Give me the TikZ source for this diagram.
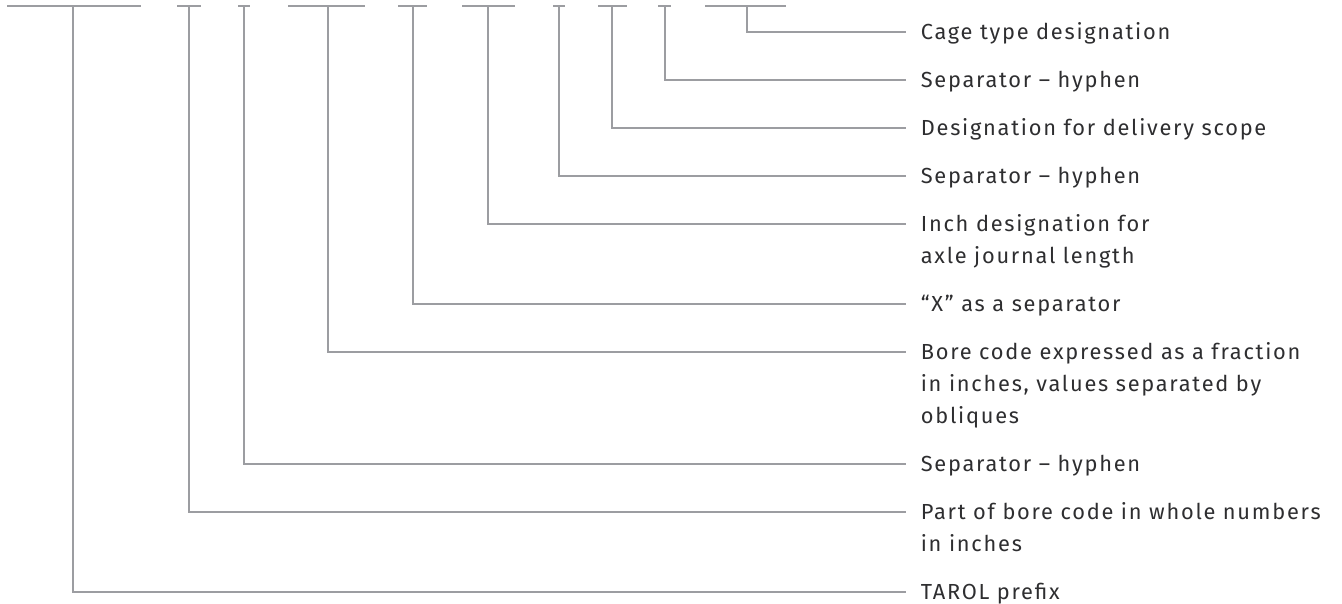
\documentclass[tikz,border=0pt]{standalone}
\usepackage{fontspec}
\setmainfont[LetterSpace=8]{Fira Sans}
\usetikzlibrary{calc}
\definecolor{rulegray}{HTML}{9C9DA1}
\definecolor{textgray}{HTML}{2E2E30}
\tikzset{every path/.style={rulegray, line width=0.85pt}, lbl/.style={anchor=base west, inner sep=0pt, align=left, text=textgray, font=\fontsize{10.9}{16}\selectfont}}

\begin{document}
\begin{tikzpicture}[x=0.5pt,y=-0.5pt]
   \useasboundingbox (0,0) rectangle (1342,604);
   \draw (7,6) -- (141,6);
   \draw (177,6) -- (201,6);
   \draw (238,6) -- (250,6);
   \draw (288,6) -- (365,6);
   \draw (398,6) -- (427,6);
   \draw (462,6) -- (515,6);
   \draw (553,6) -- (565,6);
   \draw (598,6) -- (627,6);
   \draw (658,6) -- (671,6);
   \draw (705,6) -- (786,6);
   \coordinate (prefix) at (73,6);
   \coordinate (whole) at (189,6);
   \coordinate (hyphena) at (244,6);
   \coordinate (fraction) at (328,6);
   \coordinate (cross) at (413,6);
   \coordinate (journal) at (488,6);
   \coordinate (hyphenb) at (559,6);
   \coordinate (scope) at (612,6);
   \coordinate (hyphenc) at (665,6);
   \coordinate (cage) at (747,6);
   \node[lbl] (cagetxt) at (920,39.5) {Cage type designation};
   \node[lbl] (hyphenctxt) at (920,87.5) {Separator -- hyphen};
   \node[lbl] (scopetxt) at (920,135.5) {Designation for delivery scope};
   \node[lbl] (hyphenbtxt) at (920,183.5) {Separator -- hyphen};
   \node[lbl] (journaltxt) at (920,263.5) {Inch designation for\\axle journal length};
   \node[lbl] (crosstxt) at (920,311.5) {“X” as a separator};
   \node[lbl] (fractiontxt) at (920,423.5) {Bore code expressed as a fraction\\in inches, values separated by\\obliques};
   \node[lbl] (hyphenatxt) at (920,471.5) {Separator -- hyphen};
   \node[lbl] (wholetxt) at (920,551.5) {Part of bore code in whole numbers\\in inches};
   \node[lbl] (prefixtxt) at (920,599.5) {TAROL prefix};
   \draw (cage) |- ($(cagetxt.base west)+(-14,-7.5)$);
   \draw (hyphenc) |- ($(hyphenctxt.base west)+(-14,-7.5)$);
   \draw (scope) |- ($(scopetxt.base west)+(-14,-7.5)$);
   \draw (hyphenb) |- ($(hyphenbtxt.base west)+(-14,-7.5)$);
   \draw (journal) |- ($(journaltxt.base west)+(-14,-39.5)$);
   \draw (cross) |- ($(crosstxt.base west)+(-14,-7.5)$);
   \draw (fraction) |- ($(fractiontxt.base west)+(-14,-71.5)$);
   \draw (hyphena) |- ($(hyphenatxt.base west)+(-14,-7.5)$);
   \draw (whole) |- ($(wholetxt.base west)+(-14,-39.5)$);
   \draw (prefix) |- ($(prefixtxt.base west)+(-14,-7.5)$);
  \end{tikzpicture}
\end{document}
